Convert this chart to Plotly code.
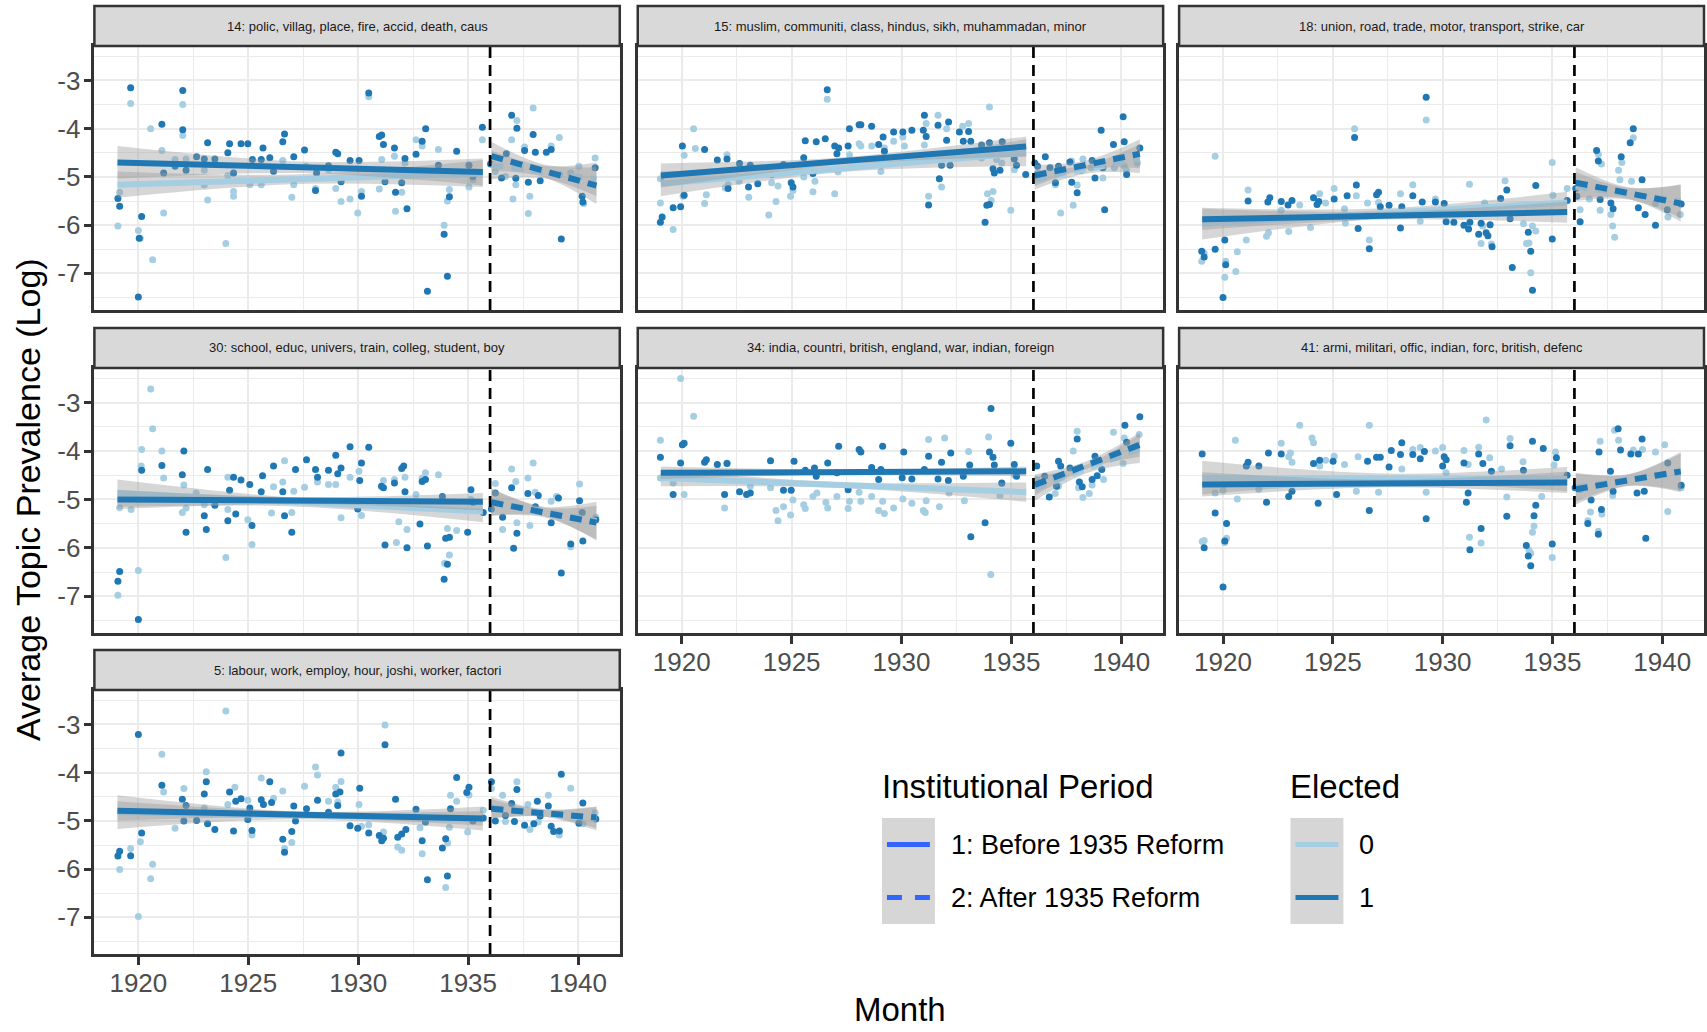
import plotly.graph_objects as go

W, H = 1707, 1032

# ---------------- data ----------------
TOPICS = [14, 15, 18, 30, 34, 41, 5]
TOPIC_LABELS = {
    14: "14: polic, villag, place, fire, accid, death, caus",
    15: "15: muslim, communiti, class, hindus, sikh, muhammadan, minor",
    18: "18: union, road, trade, motor, transport, strike, car",
    30: "30: school, educ, univers, train, colleg, student, boy",
    34: "34: india, countri, british, england, war, indian, foreign",
    41: "41: armi, militari, offic, indian, forc, british, defenc",
    5: "5: labour, work, employ, hour, joshi, worker, factori",
}
REFORM_LINE = 1936.0
X_TICKS = [1920, 1925, 1930, 1935, 1940]
Y_TICKS = [-3, -4, -5, -6, -7]
Y_TICK_TEXT = ["-3", "-4", "-5", "-6", "-7"]

# Elected = 1 (dark) points: (year, log prevalence)
E1_POINTS = {
    14: [(1919.07,-5.45),(1919.15,-5.61),(1919.65,-3.15),(1920.0,-7.49),(1920.04,-6.27),(1920.15,-5.82),
         (1921.07,-3.91),(1921.15,-4.92),(1921.67,-4.78),(1922.02,-3.21),(1922.02,-4.02),(1922.17,-4.86),
         (1922.65,-4.58),(1923.0,-4.63),(1923.15,-4.29),(1923.48,-4.63),(1924.07,-4.50),(1924.15,-4.31),
         (1924.33,-4.92),(1924.67,-4.31),(1924.98,-4.31),(1925.19,-4.64),(1925.59,-4.64),(1925.67,-4.40),
         (1925.98,-4.60),(1926.15,-4.88),(1926.57,-4.27),(1926.65,-4.11),(1927.07,-4.58),(1927.56,-4.44),
         (1928.06,-5.28),(1928.11,-4.92),(1928.65,-4.77),(1928.98,-4.49),(1929.07,-4.52),(1929.22,-5.10),
         (1929.63,-4.66),(1930.04,-4.66),(1930.15,-5.40),(1930.48,-3.26),(1930.96,-4.16),(1931.07,-4.13),
         (1931.15,-4.33),(1931.22,-5.10),(1931.65,-4.40),(1931.70,-5.32),(1931.98,-5.12),(1932.13,-4.62),
         (1932.22,-5.66),(1932.63,-4.53),(1932.91,-4.26),(1933.07,-4.00),(1933.15,-7.37),(1933.65,-4.76),
         (1933.91,-6.19),(1934.06,-7.06),(1934.15,-5.41),(1934.48,-4.47),(1935.04,-4.76),(1935.22,-4.99),
         (1935.65,-3.97),(1936.02,-4.73),(1936.52,-5.02),(1936.74,-4.52),(1936.98,-3.72),(1937.17,-5.03),
         (1937.22,-3.99),(1937.57,-4.45),(1937.74,-5.11),(1937.96,-4.12),(1938.06,-4.49),(1938.28,-5.08),
         (1938.56,-4.49),(1938.78,-4.43),(1939.15,-4.95),(1939.24,-6.29),(1940.19,-5.40),(1940.22,-5.52),
         (1940.78,-4.81)],
    15: [(1919.03,-5.94),(1919.11,-5.83),(1919.61,-5.64),(1919.95,-5.62),(1920.03,-4.36),(1920.11,-5.38),
         (1921.04,-4.43),(1921.62,-4.65),(1922.06,-4.63),(1922.11,-5.24),(1922.63,-4.72),(1923.12,-4.76),
         (1923.04,-5.21),(1923.46,-5.14),(1924.09,-4.95),(1924.63,-4.74),(1924.98,-5.12),(1925.06,-5.21),
         (1925.55,-4.60),(1925.62,-4.25),(1925.97,-4.93),(1926.12,-4.27),(1926.53,-4.21),(1926.62,-3.19),
         (1926.96,-4.36),(1927.06,-4.52),(1927.14,-4.40),(1927.57,-4.36),(1927.63,-4.00),(1928.07,-3.92),
         (1928.15,-3.92),(1928.64,-3.95),(1928.96,-4.33),(1929.16,-4.17),(1929.22,-4.47),(1929.64,-4.07),
         (1930.06,-4.07),(1930.47,-4.03),(1930.99,-4.03),(1931.04,-3.72),(1931.12,-4.16),(1931.23,-5.58),
         (1931.66,-3.93),(1931.72,-5.04),(1931.82,-4.76),(1932.05,-4.24),(1932.14,-3.86),(1932.21,-4.76),
         (1932.63,-4.07),(1932.81,-4.26),(1933.05,-4.06),(1933.15,-4.26),(1933.64,-4.34),(1933.80,-5.94),
         (1933.88,-5.59),(1934.0,-5.57),(1934.0,-4.29),(1934.16,-4.83),(1934.22,-4.92),(1934.48,-4.86),
         (1934.58,-4.27),(1935.13,-4.63),(1935.23,-4.76),(1935.65,-4.95),(1936.06,-4.71),(1936.19,-4.78),
         (1936.54,-4.58),(1936.75,-4.81),(1937.0,-5.12),(1937.14,-4.78),(1937.66,-4.69),(1937.74,-5.11),
         (1937.99,-5.33),(1938.17,-4.86),(1938.67,-4.66),(1938.80,-5.02),(1939.08,-4.03),(1939.16,-4.81),
         (1939.24,-5.68),(1939.64,-4.33),(1940.08,-3.75),(1940.13,-4.27),(1940.24,-4.95),(1940.84,-4.40)],
    18: [(1919.03,-6.54),(1919.14,-6.66),(1919.64,-6.50),(1920.0,-7.50),(1920.08,-6.31),(1920.12,-6.82),
         (1921.14,-5.50),(1922.04,-5.52),(1922.13,-5.43),(1922.65,-5.51),(1922.96,-5.58),(1923.14,-5.49),
         (1924.12,-5.43),(1924.28,-5.57),(1924.36,-5.51),(1925.06,-5.46),(1925.65,-5.39),(1925.99,-4.18),
         (1926.07,-5.17),(1926.15,-6.07),(1926.66,-6.49),(1926.99,-5.37),(1927.08,-5.32),(1927.16,-5.62),
         (1927.56,-5.59),(1928.08,-6.06),(1928.14,-5.62),(1928.64,-5.39),(1929.07,-5.52),(1929.25,-3.35),
         (1929.67,-5.52),(1930.07,-5.55),(1930.16,-5.93),(1930.51,-5.94),(1930.97,-6.00),(1931.18,-6.08),
         (1931.24,-5.94),(1931.64,-6.19),(1931.75,-5.96),(1931.98,-6.16),(1932.06,-6.22),(1932.16,-5.99),
         (1932.25,-6.45),(1932.64,-5.45),(1932.92,-5.27),(1933.07,-5.87),(1933.17,-6.88),(1933.90,-6.15),
         (1934.01,-6.54),(1934.09,-7.35),(1934.24,-5.18),(1934.99,-6.29),(1935.67,-5.49),(1936.06,-5.24),
         (1936.11,-5.40),(1936.26,-5.93),(1937.01,-4.45),(1937.09,-4.67),(1937.17,-5.47),(1937.66,-5.54),
         (1937.76,-5.66),(1938.13,-4.58),(1938.54,-4.29),(1938.68,-4.00),(1938.91,-5.64),(1939.08,-5.06),
         (1939.22,-5.78),(1939.69,-6.00),(1940.23,-5.68),(1940.86,-5.56)],
    30: [(1919.07,-6.69),(1919.15,-6.49),(1920.0,-7.48),(1920.15,-4.40),(1921.07,-4.30),(1922.0,-4.49),
         (1922.07,-4.00),(1922.17,-5.68),(1923.0,-5.34),(1923.09,-5.62),(1923.15,-4.38),(1923.48,-5.12),
         (1924.07,-5.44),(1924.15,-4.81),(1924.33,-4.54),(1924.43,-5.30),(1924.67,-4.60),(1925.07,-4.69),
         (1925.17,-5.54),(1925.59,-4.84),(1925.65,-4.51),(1926.15,-4.31),(1926.57,-4.84),(1926.65,-5.34),
         (1926.98,-5.68),(1927.15,-4.38),(1927.65,-4.18),(1928.06,-4.38),(1928.15,-4.54),(1928.65,-4.40),
         (1928.98,-4.09),(1929.07,-4.47),(1929.22,-4.35),(1929.63,-3.91),(1929.98,-5.20),(1930.07,-4.61),
         (1930.15,-4.25),(1930.48,-3.92),(1931.06,-4.73),(1931.15,-4.76),(1931.22,-5.94),(1931.65,-4.66),
         (1931.98,-4.36),(1932.07,-4.31),(1932.13,-4.84),(1932.22,-6.00),(1932.81,-5.51),(1932.91,-4.63),
         (1933.06,-4.59),(1933.15,-5.96),(1933.83,-4.94),(1933.91,-6.65),(1933.98,-5.80),(1934.06,-6.34),
         (1934.15,-5.78),(1934.98,-5.68),(1935.13,-4.80),(1935.22,-5.06),(1935.69,-5.27),(1936.06,-5.20),
         (1936.24,-4.87),(1936.57,-5.37),(1936.98,-4.76),(1937.07,-6.01),(1937.22,-5.70),(1937.72,-4.88),
         (1938.06,-5.15),(1938.19,-4.92),(1938.78,-5.48),(1939.11,-4.97),(1939.24,-6.52),(1939.67,-5.92),
         (1940.07,-5.03),(1940.19,-5.27),(1940.22,-5.86),(1940.81,-5.42)],
    34: [(1919.03,-4.13),(1919.61,-4.90),(1919.95,-4.25),(1920.03,-3.87),(1920.11,-3.84),(1921.04,-4.23),
         (1921.12,-4.18),(1921.62,-4.28),(1921.95,-4.90),(1922.06,-4.26),(1922.63,-4.84),(1922.95,-4.90),
         (1923.12,-4.87),(1924.04,-4.20),(1924.63,-4.81),(1924.98,-4.81),(1925.11,-4.21),(1925.62,-4.40),
         (1926.04,-4.35),(1926.12,-4.52),(1926.64,-4.25),(1927.06,-4.45),(1927.14,-3.90),(1927.57,-4.80),
         (1928.07,-3.97),(1928.15,-4.02),(1928.64,-4.34),(1928.96,-4.59),(1929.14,-3.90),(1929.06,-4.38),
         (1930.10,-4.02),(1930.47,-4.58),(1930.03,-4.55),(1931.04,-4.38),(1931.23,-4.11),(1931.66,-4.58),
         (1931.82,-4.23),(1932.13,-4.61),(1932.24,-4.04),(1932.81,-4.52),(1933.10,-4.29),(1933.15,-5.77),
         (1933.80,-5.48),(1934.0,-4.02),(1934.07,-3.12),(1934.16,-4.13),(1934.22,-4.29),(1934.56,-4.66),
         (1934.97,-3.84),(1935.13,-4.28),(1935.23,-4.52),(1936.15,-4.31),(1936.51,-4.52),(1936.72,-4.95),
         (1937.05,-4.73),(1937.14,-4.21),(1937.24,-4.31),(1937.66,-4.35),(1937.99,-3.75),(1938.09,-4.64),
         (1938.22,-4.74),(1938.67,-4.59),(1938.80,-4.11),(1938.90,-4.51),(1939.11,-4.38),(1940.16,-3.47),
         (1940.24,-3.82),(1940.84,-3.29)],
    41: [(1919.05,-4.06),(1919.14,-6.00),(1919.64,-5.28),(1920.0,-6.81),(1920.08,-5.86),(1920.16,-5.50),
         (1921.06,-4.31),(1921.14,-4.23),(1921.63,-4.31),(1921.98,-5.06),(1922.07,-4.04),(1922.65,-4.06),
         (1922.99,-4.94),(1923.14,-4.83),(1924.12,-4.26),(1924.33,-5.08),(1924.40,-4.19),(1925.01,-4.21),
         (1925.17,-4.90),(1926.58,-4.21),(1926.66,-5.23),(1926.99,-4.13),(1927.16,-4.13),(1927.56,-4.33),
         (1927.66,-3.99),(1928.08,-4.07),(1928.14,-3.83),(1928.64,-4.07),(1928.98,-4.16),(1929.17,-4.01),
         (1929.25,-5.40),(1930.0,-4.31),(1930.07,-4.12),(1930.16,-4.18),(1930.97,-4.25),(1931.08,-5.06),
         (1931.16,-4.87),(1931.24,-6.04),(1931.64,-4.06),(1931.75,-5.60),(1931.83,-4.26),(1932.22,-4.42),
         (1932.92,-5.35),(1933.07,-3.89),(1933.68,-4.40),(1933.81,-5.95),(1933.90,-6.17),(1934.01,-6.37),
         (1934.09,-3.80),(1934.16,-5.34),(1934.24,-5.12),(1934.58,-3.95),(1934.99,-5.92),(1935.18,-4.14),
         (1935.67,-4.50),(1936.03,-4.76),(1936.61,-5.50),(1936.76,-5.01),(1937.12,-4.02),(1937.09,-5.72),
         (1937.23,-5.21),(1937.64,-4.42),(1937.76,-4.83),(1937.99,-3.54),(1938.10,-3.98),(1938.57,-4.06),
         (1938.85,-4.87),(1938.91,-4.06),(1939.08,-3.75),(1939.18,-4.83),(1939.25,-5.80),(1940.25,-4.25),
         (1940.86,-4.71)],
    5: [(1919.07,-5.73),(1919.15,-5.63),(1919.65,-5.72),(1920.0,-3.21),(1920.15,-5.25),(1921.07,-4.26),
        (1922.0,-4.55),(1922.07,-5.00),(1922.17,-4.68),(1922.65,-4.99),(1923.0,-4.44),(1923.09,-4.19),
        (1923.15,-5.06),(1923.48,-5.18),(1924.15,-4.40),(1924.33,-5.21),(1924.43,-4.59),(1924.67,-4.54),
        (1924.98,-4.97),(1925.07,-4.73),(1925.17,-5.20),(1925.59,-4.56),(1925.69,-4.66),(1925.98,-4.19),
        (1926.06,-4.62),(1926.57,-5.38),(1926.65,-5.65),(1926.98,-5.22),(1927.07,-4.69),(1927.15,-5.00),
        (1927.65,-4.75),(1928.15,-4.57),(1928.65,-4.82),(1928.98,-4.44),(1929.17,-4.40),(1929.22,-3.59),
        (1929.07,-4.68),(1929.63,-5.10),(1929.98,-5.15),(1930.07,-4.32),(1930.48,-5.25),(1930.96,-5.30),
        (1931.07,-5.41),(1931.15,-5.36),(1931.22,-3.42),(1931.70,-4.55),(1931.80,-5.34),(1931.98,-5.27),
        (1932.17,-5.18),(1932.63,-4.76),(1932.91,-5.41),(1933.15,-6.22),(1933.06,-5.02),(1933.83,-5.56),
        (1933.98,-5.37),(1934.06,-6.14),(1934.20,-4.75),(1934.48,-4.10),(1935.04,-4.30),(1934.94,-4.41),
        (1935.22,-5.00),(1935.69,-4.94),(1936.06,-4.19),(1936.24,-5.00),(1936.70,-4.89),(1936.98,-4.64),
        (1937.11,-5.01),(1937.22,-4.35),(1937.57,-5.09),(1937.99,-5.06),(1938.15,-4.59),(1938.28,-4.90),
        (1938.65,-4.69),(1938.78,-5.11),(1938.89,-5.22),(1939.15,-5.21),(1939.24,-4.03),(1940.04,-5.05),
        (1940.22,-4.63),(1940.81,-4.96)],
}

# Elected = 0 (light) points
E0_POINTS = {
    14: [(1919.07,-6.02),(1919.15,-5.32),(1919.65,-3.48),(1920.0,-6.11),(1920.09,-6.27),(1920.56,-4.00),
         (1920.65,-6.72),(1921.07,-4.45),(1921.15,-5.75),(1921.67,-4.64),(1922.02,-3.50),(1922.02,-4.14),
         (1922.17,-4.63),(1923.0,-4.86),(1923.0,-5.17),(1923.15,-5.48),(1923.98,-6.38),(1924.07,-4.97),
         (1924.33,-5.30),(1924.33,-5.40),(1925.07,-5.16),(1925.59,-5.16),(1926.57,-4.66),(1926.98,-5.42),
         (1927.07,-5.16),(1927.63,-4.78),(1928.06,-5.24),(1928.65,-4.85),(1928.98,-5.24),(1929.22,-5.51),
         (1929.63,-5.46),(1929.98,-5.75),(1930.15,-5.30),(1930.48,-3.34),(1930.96,-5.25),(1931.07,-4.64),
         (1931.65,-4.57),(1931.70,-5.71),(1931.98,-5.32),(1932.13,-4.71),(1932.63,-4.23),(1932.91,-4.36),
         (1933.65,-4.43),(1933.91,-6.00),(1934.06,-5.50),(1934.15,-5.26),(1934.48,-4.92),(1935.04,-5.21),
         (1935.22,-5.06),(1935.65,-4.23),(1936.24,-4.89),(1936.70,-4.99),(1936.98,-4.23),(1937.04,-5.46),
         (1937.17,-5.16),(1937.22,-3.83),(1937.57,-4.38),(1937.74,-5.76),(1937.81,-5.40),(1937.96,-3.57),
         (1938.78,-4.36),(1939.15,-4.18),(1939.67,-4.92),(1940.04,-4.78),(1940.26,-5.55),(1940.78,-4.61)],
    15: [(1919.03,-5.54),(1919.03,-5.04),(1919.61,-6.09),(1920.06,-5.40),(1920.11,-4.55),(1920.54,-4.00),
         (1920.62,-4.41),(1921.04,-5.55),(1921.12,-5.37),(1921.98,-5.23),(1922.06,-4.54),(1922.11,-5.16),
         (1922.61,-5.09),(1923.05,-5.42),(1923.96,-5.79),(1924.09,-5.12),(1924.29,-5.51),(1924.38,-5.19),
         (1924.95,-5.40),(1925.06,-5.28),(1925.55,-5.00),(1925.97,-5.31),(1926.06,-5.09),(1926.62,-3.39),
         (1926.96,-5.35),(1927.11,-4.90),(1927.63,-4.54),(1928.07,-4.31),(1928.15,-4.36),(1928.64,-4.36),
         (1929.06,-4.89),(1929.22,-4.40),(1929.64,-4.26),(1930.06,-4.17),(1930.13,-4.36),(1931.04,-4.34),
         (1931.12,-3.89),(1931.23,-5.40),(1931.66,-3.72),(1931.82,-5.21),(1932.05,-4.00),(1932.78,-3.95),
         (1933.05,-3.89),(1933.64,-4.61),(1933.91,-5.35),(1934.0,-3.55),(1934.08,-5.49),(1934.16,-5.30),
         (1934.32,-4.64),(1934.56,-4.71),(1934.97,-5.69),(1935.13,-4.85),(1936.19,-4.92),(1937.0,-5.16),
         (1937.24,-5.75),(1937.73,-4.67),(1937.81,-5.59),(1937.99,-5.17),(1938.25,-4.63),(1938.62,-4.81),
         (1939.16,-5.02),(1939.68,-4.81),(1940.13,-4.78),(1940.23,-4.86),(1940.73,-4.71)],
    18: [(1919.03,-6.75),(1919.14,-6.58),(1919.64,-4.57),(1920.08,-7.08),(1920.12,-6.75),(1920.58,-6.96),
         (1920.65,-6.55),(1921.06,-6.31),(1921.14,-5.27),(1921.98,-6.23),(1922.07,-6.16),(1922.65,-5.69),
         (1922.99,-6.13),(1923.49,-5.58),(1923.98,-6.05),(1924.40,-5.35),(1924.67,-5.54),(1925.06,-5.24),
         (1925.53,-5.66),(1925.57,-5.96),(1925.99,-4.00),(1926.07,-5.39),(1926.66,-6.31),(1926.58,-5.54),
         (1927.08,-5.53),(1928.08,-5.35),(1928.64,-5.16),(1928.98,-5.92),(1929.25,-3.82),(1929.67,-5.46),
         (1931.22,-5.15),(1931.75,-6.38),(1931.83,-6.02),(1931.91,-5.54),(1932.22,-6.39),(1932.84,-5.08),
         (1933.68,-5.97),(1933.82,-6.38),(1933.93,-6.37),(1934.01,-6.99),(1934.09,-6.02),(1934.24,-6.12),
         (1934.99,-4.70),(1935.02,-5.38),(1935.67,-5.24),(1936.26,-5.68),(1936.68,-5.46),(1937.09,-4.53),
         (1937.23,-4.73),(1937.17,-5.69),(1937.66,-5.78),(1937.74,-6.02),(1937.83,-6.25),(1938.01,-4.86),
         (1938.16,-4.70),(1938.07,-5.06),(1938.60,-5.09),(1938.68,-4.19),(1939.69,-5.55),(1940.26,-5.83),
         (1940.82,-5.78)],
    30: [(1919.07,-6.98),(1919.15,-5.17),(1919.67,-5.21),(1920.0,-6.47),(1920.13,-4.31),(1920.56,-2.72),
         (1920.65,-3.54),(1920.15,-3.97),(1921.07,-4.00),(1921.15,-4.56),(1922.0,-5.27),(1922.07,-4.70),
         (1922.17,-5.18),(1922.63,-4.87),(1923.0,-5.11),(1923.98,-6.20),(1924.07,-4.54),(1924.07,-5.21),
         (1924.98,-5.42),(1925.17,-5.93),(1926.06,-5.28),(1926.15,-4.74),(1926.57,-4.64),(1926.65,-4.20),
         (1926.98,-5.27),(1927.07,-4.83),(1927.56,-4.75),(1928.15,-4.64),(1928.65,-4.69),(1928.98,-4.69),
         (1929.22,-5.38),(1929.63,-4.54),(1930.04,-4.42),(1930.15,-5.33),(1931.15,-4.61),(1931.65,-4.59),
         (1931.74,-5.89),(1931.85,-5.46),(1932.13,-4.54),(1932.22,-5.62),(1932.63,-4.90),(1932.91,-4.56),
         (1933.06,-4.45),(1933.65,-4.49),(1933.93,-6.32),(1934.06,-5.60),(1934.15,-6.15),(1934.48,-5.64),
         (1935.13,-5.00),(1936.24,-4.67),(1936.57,-5.62),(1936.98,-4.37),(1937.17,-4.63),(1937.22,-5.48),
         (1937.72,-4.56),(1937.81,-5.54),(1937.96,-4.25),(1938.06,-4.85),(1938.78,-5.04),(1939.02,-4.94),
         (1939.67,-5.98),(1940.07,-4.68),(1940.81,-5.37)],
    34: [(1919.03,-3.78),(1919.03,-4.56),(1919.61,-4.66),(1919.95,-2.50),(1920.11,-4.90),(1920.54,-3.28),
         (1921.95,-5.18),(1922.06,-4.25),(1923.12,-4.73),(1924.04,-4.76),(1924.29,-5.23),(1924.38,-5.44),
         (1924.63,-5.15),(1924.95,-5.32),(1925.06,-5.01),(1925.55,-5.11),(1925.62,-5.19),(1925.97,-4.94),
         (1926.15,-4.87),(1926.56,-5.06),(1926.64,-5.18),(1927.06,-4.94),(1927.57,-5.19),(1927.63,-5.04),
         (1928.07,-4.85),(1928.15,-5.04),(1928.64,-4.94),(1928.96,-5.23),(1929.14,-5.04),(1929.22,-5.29),
         (1929.64,-5.18),(1930.06,-4.99),(1930.47,-5.08),(1930.99,-5.23),(1931.08,-5.27),(1931.12,-5.03),
         (1931.23,-3.76),(1931.72,-5.15),(1931.96,-3.73),(1932.16,-4.87),(1932.86,-5.03),(1933.05,-4.01),
         (1933.96,-3.71),(1934.06,-6.55),(1934.48,-4.92),(1934.56,-4.67),(1935.13,-4.49),(1936.15,-4.59),
         (1936.99,-4.88),(1937.14,-4.73),(1937.81,-4.00),(1937.99,-3.59),(1938.05,-4.76),(1938.25,-4.96),
         (1938.54,-4.88),(1938.67,-4.70),(1939.19,-4.59),(1939.64,-3.61),(1940.13,-3.73),(1940.08,-4.26),
         (1940.81,-3.66)],
    41: [(1919.05,-5.87),(1919.14,-5.85),(1919.64,-4.87),(1920.0,-4.81),(1920.08,-5.89),(1920.16,-5.80),
         (1920.56,-3.78),(1920.65,-4.99),(1921.06,-4.31),(1921.63,-4.79),(1922.15,-4.63),(1922.65,-3.84),
         (1922.99,-4.12),(1923.07,-4.04),(1923.14,-4.23),(1923.49,-3.47),(1924.05,-3.73),(1924.12,-3.83),
         (1924.40,-4.31),(1924.67,-4.19),(1925.06,-4.11),(1925.53,-4.28),(1926.07,-4.83),(1926.15,-4.12),
         (1926.66,-3.47),(1927.08,-4.85),(1928.14,-4.37),(1928.64,-3.97),(1928.98,-3.93),(1929.25,-4.85),
         (1929.67,-4.00),(1930.0,-3.93),(1930.16,-4.45),(1930.97,-3.99),(1931.22,-5.78),(1931.16,-4.28),
         (1931.64,-3.92),(1931.75,-5.90),(1931.98,-3.36),(1932.14,-4.14),(1932.68,-4.37),(1932.92,-4.95),
         (1933.07,-3.74),(1933.66,-4.22),(1933.93,-6.05),(1934.01,-6.11),(1934.09,-5.68),(1934.16,-5.55),
         (1934.51,-4.94),(1934.99,-6.20),(1935.07,-4.29),(1935.14,-4.02),(1936.26,-4.80),(1936.61,-5.44),
         (1936.73,-5.26),(1937.09,-5.66),(1937.17,-3.80),(1937.25,-5.30),(1937.74,-4.92),(1937.83,-3.57),
         (1938.01,-3.78),(1938.68,-3.98),(1939.10,-3.97),(1939.69,-4.02),(1940.11,-3.87),(1940.25,-5.25),
         (1940.86,-4.76)],
    5: [(1919.15,-6.01),(1919.65,-5.57),(1920.0,-6.98),(1920.09,-5.43),(1920.56,-6.20),(1920.65,-5.90),
        (1921.07,-3.62),(1921.15,-4.40),(1921.67,-5.15),(1922.07,-4.33),(1923.0,-4.73),(1923.09,-3.98),
        (1923.98,-2.72),(1924.07,-4.66),(1924.39,-4.30),(1924.98,-4.57),(1925.17,-5.29),(1925.59,-4.11),
        (1926.15,-4.53),(1926.57,-4.38),(1926.65,-5.57),(1926.98,-5.45),(1927.56,-4.28),(1928.06,-3.88),
        (1928.15,-4.05),(1928.65,-4.59),(1928.98,-4.30),(1929.07,-4.61),(1929.22,-4.18),(1930.04,-4.66),
        (1930.15,-5.11),(1930.48,-5.08),(1931.15,-5.23),(1931.22,-3.01),(1931.80,-5.54),(1931.98,-5.61),
        (1932.81,-5.14),(1932.91,-5.68),(1933.98,-6.38),(1934.07,-5.46),(1934.15,-5.13),(1934.20,-4.47),
        (1934.48,-4.59),(1934.98,-5.23),(1935.04,-4.46),(1935.69,-4.78),(1936.06,-4.33),(1936.57,-4.47),
        (1936.70,-5.01),(1937.22,-4.19),(1937.72,-4.66),(1937.81,-5.18),(1938.19,-5.02),(1938.65,-4.47),
        (1939.15,-5.29),(1939.67,-4.32),(1940.22,-5.06),(1940.78,-4.83)],
}

# Linear fits: [value at start, value at end, CI half-width start, middle, end]
FIT_PRE_X = [1919.05, 1935.67]
FIT_POST_X = [1936.06, 1940.84]
FIT_E0_PRE = {14: [-5.16, -4.93, 0.27, 0.10, 0.28], 15: [-5.14, -4.50, 0.26, 0.08, 0.28],
              18: [-5.97, -5.53, 0.33, 0.10, 0.22], 30: [-4.87, -5.25, 0.28, 0.09, 0.22],
              34: [-4.56, -4.85, 0.17, 0.06, 0.20], 41: [-4.55, -4.58, 0.35, 0.10, 0.25],
              5: [-4.82, -4.95, 0.35, 0.08, 0.25]}
FIT_E1_PRE = {14: [-4.70, -4.90, 0.34, 0.12, 0.28], 15: [-4.97, -4.37, 0.25, 0.08, 0.21],
              18: [-5.88, -5.73, 0.22, 0.08, 0.22], 30: [-5.00, -5.05, 0.20, 0.07, 0.18],
              34: [-4.45, -4.42, 0.13, 0.05, 0.10], 41: [-4.69, -4.65, 0.25, 0.08, 0.22],
              5: [-4.79, -4.95, 0.20, 0.06, 0.15]}
FIT_E0_POST = {14: [-4.75, -5.05, 0.30, 0.13, 0.35], 15: [-5.06, -4.62, 0.20, 0.09, 0.30],
               18: [-5.20, -5.50, 0.30, 0.12, 0.35], 30: [-5.05, -5.45, 0.28, 0.10, 0.40],
               34: [-4.78, -3.95, 0.25, 0.09, 0.30], 41: [-4.75, -4.45, 0.30, 0.12, 0.40],
               5: [-4.72, -4.95, 0.22, 0.08, 0.25]}
FIT_E1_POST = {14: [-4.57, -5.18, 0.30, 0.13, 0.38], 15: [-4.97, -4.52, 0.22, 0.09, 0.30],
               18: [-5.12, -5.55, 0.32, 0.12, 0.38], 30: [-5.06, -5.48, 0.28, 0.10, 0.35],
               34: [-4.70, -3.87, 0.22, 0.08, 0.25], 41: [-4.79, -4.42, 0.32, 0.12, 0.40],
               5: [-4.75, -4.93, 0.20, 0.07, 0.22]}

# ---------------- layout / style ----------------
C_E0 = "#A6CEE3"
C_E1 = "#1F78B4"
RIBBON = "rgba(153,153,153,0.4)"
FONT = "Liberation Sans, Arial, sans-serif"

PANEL_CELL = {14: (0, 0), 15: (0, 1), 18: (0, 2), 30: (1, 0), 34: (1, 1), 41: (1, 2), 5: (2, 0)}
COL_X = [(94.5, 620.5), (638.5, 1164.5), (1180.5, 1706.0)]
ROW_Y = [(46, 310), (368, 633), (690, 954)]
STRIP_H = 40
SHOW_X = {5, 34, 41}
SHOW_Y = {14, 30, 5}
X_RANGE = [1918.0, 1941.9]
Y_RANGE = [-7.76, -2.285]


def px(x):
    return x / W


def py(y):
    return 1 - y / H


fig = go.Figure()
layout_axes = {}
shapes = []
annotations = []

for i, t in enumerate(TOPICS):
    n = i + 1
    xa = "x" if n == 1 else f"x{n}"
    ya = "y" if n == 1 else f"y{n}"
    r, c = PANEL_CELL[t]
    x0, x1 = COL_X[c]
    y0, y1 = ROW_Y[r]
    showx = t in SHOW_X
    showy = t in SHOW_Y
    layout_axes["xaxis" if n == 1 else f"xaxis{n}"] = dict(
        domain=[px(x0), px(x1)], anchor=ya, range=X_RANGE,
        tickmode="array", tickvals=X_TICKS, ticktext=[str(v) for v in X_TICKS],
        showticklabels=showx, ticks="outside" if showx else "", ticklen=8, tickwidth=2.5,
        tickcolor="#333333", tickfont=dict(size=26, color="#4D4D4D", family=FONT),
        ticklabelstandoff=-4,
        showgrid=True, gridcolor="#EBEBEB", gridwidth=1.8, zeroline=False,
        minor=dict(tickmode="array", tickvals=[1917.5, 1922.5, 1927.5, 1932.5, 1937.5, 1942.5],
                   showgrid=True, gridcolor="#EBEBEB", gridwidth=0.9, ticks=""),
        showline=True, mirror=True, linecolor="#333333", linewidth=2.5,
    )
    layout_axes["yaxis" if n == 1 else f"yaxis{n}"] = dict(
        domain=[py(y1), py(y0)], anchor=xa, range=Y_RANGE,
        tickmode="array", tickvals=Y_TICKS, ticktext=Y_TICK_TEXT,
        showticklabels=showy, ticks="outside" if showy else "", ticklen=8, tickwidth=2.5,
        tickcolor="#333333", tickfont=dict(size=26, color="#4D4D4D", family=FONT),
        ticklabelstandoff=-2,
        showgrid=True, gridcolor="#EBEBEB", gridwidth=1.8, zeroline=False,
        minor=dict(tickmode="array", tickvals=[-2.5, -3.5, -4.5, -5.5, -6.5, -7.5],
                   showgrid=True, gridcolor="#EBEBEB", gridwidth=0.9, ticks=""),
        showline=True, mirror=True, linecolor="#333333", linewidth=2.5,
    )

    # points
    for pts, col in ((E0_POINTS[t], C_E0), (E1_POINTS[t], C_E1)):
        fig.add_trace(go.Scatter(
            x=[p[0] for p in pts], y=[p[1] for p in pts], mode="markers",
            marker=dict(size=7, color=col, line=dict(width=0)),
            xaxis=xa, yaxis=ya, showlegend=False, hoverinfo="skip"))

    # smooths: ribbon + line per group/period
    for col, fits in ((C_E0, (FIT_E0_PRE, FIT_E0_POST)), (C_E1, (FIT_E1_PRE, FIT_E1_POST))):
        for fx, fd, dash in ((FIT_PRE_X, fits[0], "solid"), (FIT_POST_X, fits[1], "12px,8px")):
            ys, ye, h0, hm, h1 = fd[t]
            xm = (fx[0] + fx[1]) / 2
            ymid = (ys + ye) / 2
            fig.add_trace(go.Scatter(
                x=[fx[0], xm, fx[1]], y=[ys + h0, ymid + hm, ye + h1], mode="lines",
                line=dict(width=0, shape="spline", color=RIBBON),
                xaxis=xa, yaxis=ya, showlegend=False, hoverinfo="skip"))
            fig.add_trace(go.Scatter(
                x=[fx[0], xm, fx[1]], y=[ys - h0, ymid - hm, ye - h1], mode="lines",
                line=dict(width=0, shape="spline", color=RIBBON), fill="tonexty", fillcolor=RIBBON,
                xaxis=xa, yaxis=ya, showlegend=False, hoverinfo="skip"))
            fig.add_trace(go.Scatter(
                x=fx, y=[ys, ye], mode="lines", line=dict(width=6, color=col, dash=dash),
                xaxis=xa, yaxis=ya, showlegend=False, hoverinfo="skip"))

    # reform line
    shapes.append(dict(type="line", xref=xa, yref=f"{ya} domain", x0=REFORM_LINE, x1=REFORM_LINE,
                       y0=0, y1=1, line=dict(color="black", width=2.7, dash="11px,7px"), layer="above"))
    # strip
    shapes.append(dict(type="rect", xref="paper", yref="paper", x0=px(x0), x1=px(x1),
                       y0=py(y0), y1=py(y0 - STRIP_H), fillcolor="#D9D9D9",
                       line=dict(color="#333333", width=2.5), layer="above"))
    annotations.append(dict(text=TOPIC_LABELS[t], xref="paper", yref="paper",
                            x=px((x0 + x1) / 2), y=py(y0 - STRIP_H / 2), showarrow=False,
                            xanchor="center", yanchor="middle",
                            font=dict(size=13, color="#1A1A1A", family=FONT)))

# axis titles
annotations.append(dict(text="Average Topic Prevalence (Log)", xref="paper", yref="paper",
                        x=px(28), y=py(499), showarrow=False, textangle=-90,
                        xanchor="center", yanchor="middle", font=dict(size=34, color="black", family=FONT)))
annotations.append(dict(text="Month", xref="paper", yref="paper", x=px(901), y=py(1030),
                        showarrow=False, xanchor="center", yanchor="bottom",
                        font=dict(size=33, color="black", family=FONT)))

# legends (drawn as decoration)
LEG_PERIOD = ["1: Before 1935 Reform", "2: After 1935 Reform"]
LEG_ELECTED = ["0", "1"]
key_top, key_h = 818, 53
for lx, title, labels in ((883, "Institutional Period", LEG_PERIOD), (1292, "Elected", LEG_ELECTED)):
    annotations.append(dict(text=title, xref="paper", yref="paper", x=px(lx - 2), y=py(786),
                            showarrow=False, xanchor="left", yanchor="middle",
                            font=dict(size=33, color="black", family=FONT)))
    shapes.append(dict(type="rect", xref="paper", yref="paper", x0=px(lx), x1=px(lx + 53),
                       y0=py(key_top + 2 * key_h), y1=py(key_top), fillcolor="#D6D6D6",
                       line=dict(width=0), layer="above"))
    for k, lab in enumerate(labels):
        cy = key_top + key_h * k + key_h / 2
        annotations.append(dict(text=lab, xref="paper", yref="paper", x=px(lx + 67), y=py(cy),
                                showarrow=False, xanchor="left", yanchor="middle",
                                font=dict(size=27, color="black", family=FONT)))

shapes.append(dict(type="line", xref="paper", yref="paper", x0=px(888), x1=px(931),
                   y0=py(key_top + key_h / 2), y1=py(key_top + key_h / 2),
                   line=dict(color="#3366FF", width=5), layer="above"))
shapes.append(dict(type="line", xref="paper", yref="paper", x0=px(888), x1=px(931),
                   y0=py(key_top + 1.5 * key_h), y1=py(key_top + 1.5 * key_h),
                   line=dict(color="#3366FF", width=5, dash="15px,13px"), layer="above"))
for k, col in enumerate((C_E0, C_E1)):
    cy = key_top + key_h * k + key_h / 2
    shapes.append(dict(type="line", xref="paper", yref="paper", x0=px(1297), x1=px(1340),
                       y0=py(cy), y1=py(cy), line=dict(color=col, width=5), layer="above"))

fig.update_layout(
    width=W, height=H, margin=dict(l=0, r=0, t=0, b=0),
    paper_bgcolor="white", plot_bgcolor="white",
    shapes=shapes, annotations=annotations, showlegend=False,
    font=dict(family=FONT),
    **layout_axes,
)

fig.write_html("out.html")
